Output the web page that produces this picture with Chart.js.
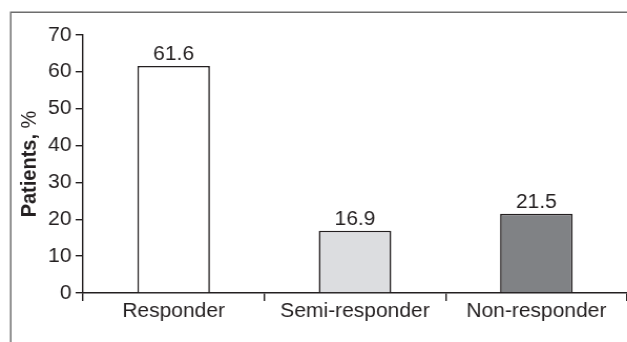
<!DOCTYPE html>
<html>
<head>
<meta charset="utf-8">
<script src="https://cdn.jsdelivr.net/npm/chart.js@4.4.1/dist/chart.umd.min.js"></script>
<style>
  html, body { margin: 0; padding: 0; background: #fff; overflow: hidden; }
  #wrap { width: 597px; height: 342px; transform: scaleX(1.0503); transform-origin: 0 0; }
</style>
</head>
<body>
<div id="wrap"><canvas id="chartBar" width="597" height="342"></canvas></div>
<script>
const categories = ["Responder", "Semi-responder", "Non-responder"];
const patients = [61.6, 16.9, 21.5];
const barColors = ["#ffffff", "#dcdde0", "#808285"];
const yTicks = [0, 10, 20, 30, 40, 50, 60, 70];

const ink = "#231f20";
const fontFamily = "'Liberation Sans', Arial, Helvetica, sans-serif";

// thin frame along the left and top edges
const framePlugin = {
  id: "frame",
  beforeDraw(chart) {
    const ctx = chart.ctx;
    ctx.save();
    ctx.strokeStyle = "#6d6d6d";
    ctx.lineWidth = 1.5;
    ctx.beginPath();
    ctx.moveTo(10.2, chart.height);
    ctx.lineTo(10.2, 12.3);
    ctx.lineTo(chart.width, 12.3);
    ctx.stroke();
    ctx.restore();
  },
};

// value printed above each bar
const valueLabels = {
  id: "valueLabels",
  afterDatasetsDraw(chart) {
    const ctx = chart.ctx;
    const meta = chart.getDatasetMeta(0);
    ctx.save();
    ctx.fillStyle = ink;
    ctx.font = "20px " + fontFamily;
    ctx.textAlign = "center";
    ctx.textBaseline = "alphabetic";
    meta.data.forEach(function (bar, i) {
      ctx.fillText(patients[i].toFixed(1), bar.x, bar.y - 6);
    });
    ctx.restore();
  },
};

// y title: "Patients," in bold, "%" in regular weight
const yTitle = {
  id: "yTitle",
  afterDraw(chart) {
    const ctx = chart.ctx;
    const area = chart.chartArea;
    const boldFont = "bold 20px " + fontFamily;
    const normalFont = "20px " + fontFamily;
    ctx.save();
    ctx.font = boldFont;
    const w1 = ctx.measureText("Patients,").width;
    ctx.font = normalFont;
    const w2 = ctx.measureText(" %").width;
    const total = w1 + w2;
    ctx.translate(28.6, (area.top + area.bottom) / 2);
    ctx.rotate(-Math.PI / 2);
    ctx.fillStyle = ink;
    ctx.textAlign = "left";
    ctx.textBaseline = "middle";
    ctx.font = boldFont;
    ctx.fillText("Patients,", -total / 2, 0);
    ctx.font = normalFont;
    ctx.fillText(" %", -total / 2 + w1, 0);
    ctx.restore();
  },
};

const data = {
  labels: categories,
  datasets: [
    {
      label: "Patients, %",
      data: patients,
      backgroundColor: barColors,
      borderColor: ink,
      borderWidth: 1.6,
      categoryPercentage: 1,
      barPercentage: 0.4,
    },
  ],
};

const configBarChart = {
  type: "bar",
  data,
  options: {
    responsive: false,
    animation: false,
    layout: { padding: { top: 35, left: 0, right: 0, bottom: 0 } },
    plugins: {
      legend: { display: false },
      tooltip: { enabled: false },
    },
    scales: {
      x: {
        afterFit(scale) {
          scale.height = 49;
        },
        grid: {
          offset: true,
          drawOnChartArea: false,
          tickLength: 8,
          color: ink,
          lineWidth: 1.4,
        },
        border: { display: true, color: ink, width: 1.4 },
        ticks: {
          color: ink,
          padding: -2,
          font: { family: fontFamily, size: 20 },
        },
      },
      y: {
        min: 0,
        max: 70,
        afterFit(scale) {
          scale.width = 79;
        },
        afterBuildTicks(scale) {
          scale.ticks = yTicks.map(function (v) {
            return { value: v };
          });
        },
        grid: {
          drawOnChartArea: false,
          tickLength: 7,
          color: ink,
          lineWidth: 1.4,
        },
        border: { display: true, color: ink, width: 1.4 },
        ticks: {
          color: ink,
          padding: 4,
          font: { family: fontFamily, size: 20 },
        },
      },
    },
  },
  plugins: [framePlugin, valueLabels, yTitle],
};

var chartBar = new Chart(document.getElementById("chartBar"), configBarChart);
</script>
</body>
</html>
